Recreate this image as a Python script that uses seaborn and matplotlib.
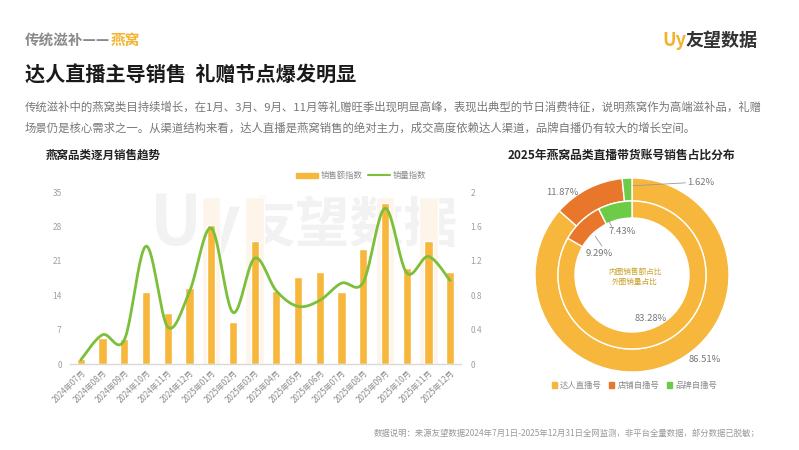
import numpy as np
import pandas as pd
import matplotlib
matplotlib.use("Agg")
import matplotlib.pyplot as plt
import seaborn as sns
from matplotlib.patches import Patch
from matplotlib.lines import Line2D

# ---- data ----
months = ['2024年07月', '2024年08月', '2024年09月', '2024年10月', '2024年11月', '2024年12月',
          '2025年01月', '2025年02月', '2025年03月', '2025年04月', '2025年05月', '2025年06月',
          '2025年07月', '2025年08月', '2025年09月', '2025年10月', '2025年11月', '2025年12月']
sales_index = [1.0, 5.3, 5.0, 14.6, 10.3, 15.4, 28.3, 8.6, 25.0, 14.9, 17.8, 18.7,
               14.6, 23.4, 32.7, 19.5, 25.0, 18.7]
volume_index = [0.05, 0.34, 0.28, 1.37, 0.43, 0.84, 1.58, 0.60, 1.23, 0.85, 0.67, 0.74,
                0.94, 0.95, 1.81, 1.06, 1.25, 0.97]
gift_months = ['2025年01月', '2025年03月', '2025年09月', '2025年11月']

channels = ['达人直播号', '店铺自播号', '品牌自播号']
outer_share = [86.51, 11.87, 1.62]   # 外圈 销量占比
inner_share = [83.28, 9.29, 7.43]    # 内圈 销售额占比

left_ticks = [0, 7, 14, 21, 28, 35]
right_ticks = [0, 0.4, 0.8, 1.2, 1.6, 2]

ORANGE = '#F6B73C'
RED = '#E8772C'
GREEN = '#6DCB47'
LINE_GREEN = '#7BBF3A'


def smooth(x, y, n=24):
    # Catmull-Rom curve through the points, only for drawing the line smoothly
    pts = np.column_stack([x, y]).astype(float)
    P = np.vstack([pts[0], pts, pts[-1]])
    out = []
    t = np.linspace(0, 1, n, endpoint=False)[:, None]
    for i in range(1, len(P) - 2):
        p0, p1, p2, p3 = P[i - 1], P[i], P[i + 1], P[i + 2]
        seg = 0.5 * (2 * p1 + (-p0 + p2) * t + (2 * p0 - 5 * p1 + 4 * p2 - p3) * t ** 2
                     + (-p0 + 3 * p1 - 3 * p2 + p3) * t ** 3)
        out.append(seg)
    out.append(pts[-1:])
    out = np.vstack(out)
    return out[:, 0], out[:, 1]


sns.set_theme(style="white")
plt.rcParams['font.family'] = ['Noto Sans CJK SC', 'DejaVu Sans']

W, H = 799, 450
fig = plt.figure(figsize=(W / 100, H / 100), dpi=100)
fig.patch.set_facecolor('white')


def fx(px):
    return px / W


def fy(py):
    return 1 - py / H


# ---- header ----
head = fig.text(fx(25), fy(40), '传统滋补——', fontsize=10.5, color='#8a8a8a', va='center',
                fontweight='bold')
renderer = fig.canvas.get_renderer()
head_end = head.get_window_extent(renderer).x1
fig.text(fx(head_end + 0.5), fy(40), '燕窝', fontsize=10.5, color='#F2B431', va='center', fontweight='bold')
fig.text(fx(662), fy(40), 'Uy', fontsize=13, color='#F3B12E', va='center', fontweight='bold')
fig.text(fx(686), fy(40), '友望数据', fontsize=13, color='#333333', va='center', fontweight='bold')
fig.text(fx(25), fy(75), '达人直播主导销售  礼赠节点爆发明显', fontsize=14.5, color='#1a1a1a',
         va='center', fontweight='bold')
fig.text(fx(25), fy(107),
         '传统滋补中的燕窝类目持续增长，在1月、3月、9月、11月等礼赠旺季出现明显高峰，表现出典型的节日消费特征，说明燕窝作为高端滋补品，礼赠',
         fontsize=8.2, color='#777777', va='center')
fig.text(fx(25), fy(128),
         '场景仍是核心需求之一。从渠道结构来看，达人直播是燕窝销售的绝对主力，成交高度依赖达人渠道，品牌自播仍有较大的增长空间。',
         fontsize=8.2, color='#777777', va='center')

fig.text(fx(46), fy(155), '燕窝品类逐月销售趋势', fontsize=8.3, color='#222222', va='center', fontweight='bold')
fig.text(fx(508), fy(155), '2025年燕窝品类直播带货账号销售占比分布', fontsize=8.5, color='#222222',
         va='center', fontweight='bold')

# faint watermark behind the charts
fig.text(fx(150), fy(226), 'Uy', fontsize=50, color='#F2F2F2', va='center', fontweight='bold', zorder=-5)
fig.text(fx(242), fy(226), '友望数据', fontsize=39, color='#F2F2F2', va='center', fontweight='bold', zorder=-5)

# ---- monthly trend: bars ----
ax = fig.add_axes([fx(70), fy(364), fx(391), 172 / H])
ax.patch.set_visible(False)
band = [34 if m in gift_months else 0 for m in months]
df = pd.DataFrame({'month': months, 'sales': sales_index, 'band': band})
sns.barplot(data=df, x='month', y='band', color='#FEF5EA', width=0.85, saturation=1,
            errorbar=None, ax=ax, zorder=1)
sns.barplot(data=df, x='month', y='sales', color=ORANGE, width=0.38, saturation=1,
            errorbar=None, ax=ax, zorder=2)
ax.set_ylim(0, 35)
ax.set_yticks(left_ticks)
ax.set_yticklabels([str(v) for v in left_ticks])
ax.set_xlabel('')
ax.set_ylabel('')
for s in ['left', 'right', 'top']:
    ax.spines[s].set_visible(False)
ax.spines['bottom'].set_color('#D9D9D9')
ax.spines['bottom'].set_linewidth(1)
ax.tick_params(axis='y', length=0, labelsize=6, labelcolor='#A0A0A0', pad=6)
ax.tick_params(axis='x', length=0, labelsize=5.8, labelcolor='#8C8C8C', pad=3)
for lab in ax.get_xticklabels():
    lab.set_rotation(45)
    lab.set_ha('right')
    lab.set_rotation_mode('anchor')

# ---- monthly trend: smoothed volume line on its own right axis ----
ax2 = fig.add_axes([fx(70), fy(364), fx(391), 172 / H])
ax2.patch.set_visible(False)
sx, sy = smooth(np.arange(len(months)), volume_index)
ax2.plot(sx, sy, color=LINE_GREEN, lw=2, solid_capstyle='round', zorder=3)
ax2.set_xlim(-0.5, len(months) - 0.5)
ax2.set_ylim(0, 2)
ax2.set_xticks([])
ax2.yaxis.tick_right()
ax2.set_yticks(right_ticks)
ax2.set_yticklabels(['0', '0.4', '0.8', '1.2', '1.6', '2'])
ax2.tick_params(axis='y', length=0, labelsize=6, labelcolor='#A0A0A0', pad=7)
for s in ax2.spines.values():
    s.set_visible(False)
ax2.grid(False)
ax.grid(False)

handles = [Patch(color=ORANGE), Line2D([0], [0], color=LINE_GREEN, lw=1.5)]
leg = ax.legend(handles, ['销售额指数', '销量指数'], loc='center', bbox_to_anchor=(0.745, 1.095),
                ncol=2, frameon=False, fontsize=6, handlelength=2.6, handleheight=0.6,
                handletextpad=0.4, columnspacing=0.6)
for t in leg.get_texts():
    t.set_color('#8C8C8C')

# ---- channel share donut ----
R = 97
cx, cy = 632, 275
half = 120
ax3 = fig.add_axes([fx(cx - half), fy(cy + half), fx(2 * half), 2 * half / H])
colors = [ORANGE, RED, GREEN]
ax3.pie(outer_share, radius=1.0, startangle=90, counterclock=False, colors=colors,
        wedgeprops=dict(width=23 / R, edgecolor='white', linewidth=1))
ax3.pie(inner_share, radius=74 / R, startangle=90, counterclock=False, colors=colors,
        wedgeprops=dict(width=17 / R, edgecolor='white', linewidth=1))
ax3.set_xlim(-half / R, half / R)
ax3.set_ylim(-half / R, half / R)
ax3.set_aspect('equal')
ax3.axis('off')

lab_kw = dict(fontsize=6.8, color='#777777', va='center')
ax3.text(-0.72, 0.85, f'{outer_share[1]:.2f}%', ha='center', **lab_kw)
ax3.plot([0.01, 0.55], [0.92, 0.95], color='#999999', lw=0.6)
ax3.text(0.57, 0.95, f'{outer_share[2]:.2f}%', ha='left', **lab_kw)
ax3.text(0.75, -0.87, f'{outer_share[0]:.2f}%', ha='center', **lab_kw)
ax3.plot([-0.25, -0.21], [0.58, 0.50], color='#999999', lw=0.6)
ax3.text(-0.10, 0.45, f'{inner_share[2]:.2f}%', ha='center', **lab_kw)
ax3.plot([-0.38, -0.31], [0.40, 0.30], color='#999999', lw=0.6)
ax3.text(-0.34, 0.22, f'{inner_share[1]:.2f}%', ha='center', **lab_kw)
ax3.text(0.19, -0.45, f'{inner_share[0]:.2f}%', ha='center', **lab_kw)
ax3.text(0.03, 0.03, '内圈销售额占比', ha='center', va='center', fontsize=5.5, color='#C9A12C')
ax3.text(0.03, -0.07, '外圈销量占比', ha='center', va='center', fontsize=5.5, color='#C9A12C')

leg2 = ax3.legend([Patch(color=c) for c in colors], channels, loc='center',
                  bbox_to_anchor=(0.51, 0.04), ncol=3, frameon=False, fontsize=6,
                  handlelength=0.6, handleheight=0.6, handletextpad=0.4, columnspacing=0.9)
for t in leg2.get_texts():
    t.set_color('#8C8C8C')

# ---- footnote ----
fig.text(fx(760), fy(433),
         '数据说明：来源友望数据2024年7月1日-2025年12月31日全网监测，非平台全量数据，部分数据已脱敏；',
         fontsize=6, color='#999999', ha='right', va='center')

fig.savefig('out.png', dpi=100, facecolor='white')
